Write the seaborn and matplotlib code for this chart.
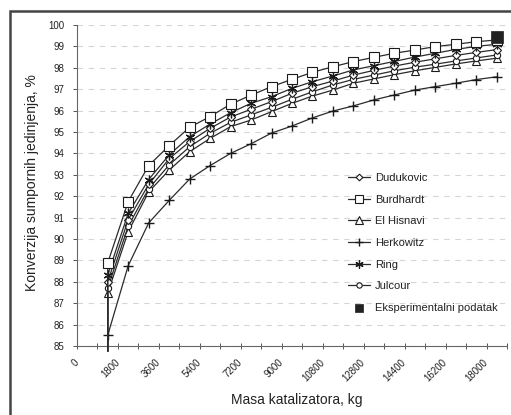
import numpy as np
import pandas as pd
import matplotlib
matplotlib.use("Agg")
import matplotlib.pyplot as plt
from matplotlib.patches import Rectangle
from matplotlib.ticker import MultipleLocator
import seaborn as sns

# ---------------- data ----------------
masa = [1350, 2250, 3150, 4050, 4950, 5850, 6750, 7650, 8550, 9450,
        10350, 11250, 12150, 13050, 13950, 14850, 15750, 16650, 17550, 18450]

burdhardt = [88.88, 91.75, 93.43, 94.36, 95.22, 95.72, 96.30, 96.72, 97.12, 97.46,
             97.79, 98.05, 98.29, 98.49, 98.68, 98.83, 98.99, 99.10, 99.22, 99.30]
ring = [88.32, 91.20, 92.78, 93.93, 94.78, 95.37, 95.90, 96.34, 96.65, 97.04,
        97.35, 97.62, 97.90, 98.10, 98.30, 98.50, 98.68, 98.86, 99.00, 99.10]
dudukovic = [88.00, 90.90, 92.55, 93.75, 94.55, 95.17, 95.70, 96.06, 96.42, 96.81,
             97.12, 97.38, 97.66, 97.88, 98.08, 98.26, 98.42, 98.58, 98.72, 98.85]
julcour = [87.70, 90.60, 92.35, 93.46, 94.31, 94.94, 95.45, 95.80, 96.15, 96.53,
           96.88, 97.20, 97.46, 97.66, 97.86, 98.03, 98.17, 98.32, 98.46, 98.60]
el_hisnavi = [87.47, 90.34, 92.20, 93.22, 94.08, 94.70, 95.25, 95.56, 95.95, 96.34,
              96.68, 96.96, 97.28, 97.48, 97.68, 97.86, 98.02, 98.18, 98.32, 98.45]
herkowitz = [85.50, 88.75, 90.75, 91.80, 92.80, 93.43, 94.00, 94.45, 94.95, 95.28,
             95.66, 95.98, 96.22, 96.50, 96.73, 96.96, 97.12, 97.28, 97.45, 97.58]

# lines start below the axis minimum at the first mass
pocetak_masa = 1350
pocetak_konverzija = 84.75

eksperiment_masa = [18450]
eksperiment_konverzija = [99.42]

legend_order = ["Dudukovic", "Burdhardt", "El Hisnavi", "Herkowitz", "Ring", "Julcour"]
series = {
    "Dudukovic": dudukovic,
    "Burdhardt": burdhardt,
    "El Hisnavi": el_hisnavi,
    "Herkowitz": herkowitz,
    "Ring": ring,
    "Julcour": julcour,
}

x_ticks = list(range(0, 18001, 1800))
x_tick_labels = ["0", "1800", "3600", "5400", "7200", "9000",
                 "10800", "12800", "14400", "16200", "18000"]
y_ticks = list(range(85, 101))

# ---------------- style ----------------
sns.set_theme(style="white")
plt.rcParams["font.family"] = ["Liberation Sans", "DejaVu Sans"]

W, H = 511, 415
fig = plt.figure(figsize=(W / 100, H / 100), dpi=100)
ax = fig.add_axes([77 / W, 1 - 346 / H, (507 - 77) / W, (346 - 25) / H])

styles = {
    "Dudukovic": dict(marker="D", markersize=4),
    "Burdhardt": dict(marker="s", markersize=7),
    "El Hisnavi": dict(marker="^", markersize=6),
    "Herkowitz": dict(marker="+", markersize=7, markeredgewidth=1.0),
    "Ring": dict(marker=(6, 2, 0), markersize=7, markeredgewidth=0.9),
    "Julcour": dict(marker="o", markersize=4.5),
}

line_col = "#2b2b2b"
zorders = {"Herkowitz": 3, "El Hisnavi": 4, "Julcour": 5, "Dudukovic": 6, "Ring": 7, "Burdhardt": 8}
for name in legend_order:
    vals = series[name]
    df = pd.DataFrame({"masa": [pocetak_masa] + masa,
                       "konverzija": [pocetak_konverzija] + vals})
    st = styles[name]
    sns.lineplot(data=df, x="masa", y="konverzija", ax=ax, sort=False, estimator=None,
                 color=line_col, linewidth=0.9, label=name,
                 marker=st["marker"], markersize=st["markersize"],
                 markeredgewidth=st.get("markeredgewidth", 0.8),
                 markerfacecolor="white", markeredgecolor="#1a1a1a",
                 markevery=list(range(1, len(df))), clip_on=False,
                 zorder=zorders[name])

sns.scatterplot(x=eksperiment_masa, y=eksperiment_konverzija, ax=ax, marker="s",
                s=75, color="#222222", edgecolor="#222222", linewidth=0.5,
                label="Eksperimentalni podatak", zorder=10, clip_on=False)

# ---------------- axes ----------------
ax.set_xlim(0, 18900)
ax.set_ylim(85, 100)
ax.set_xticks(x_ticks)
ax.set_xticklabels(x_tick_labels, rotation=45, ha="right", va="center",
                   rotation_mode="anchor", fontsize=7, color="#222222")
ax.xaxis.set_minor_locator(MultipleLocator(900))
ax.set_yticks(y_ticks)
ax.set_yticklabels([str(v) for v in y_ticks], fontsize=7, color="#222222")

ax.tick_params(axis="x", which="both", direction="inout", length=5, width=0.7,
               color="#555555", bottom=True, pad=8)
ax.tick_params(axis="y", which="major", direction="out", length=3, width=0.7,
               color="#555555", left=True, pad=6)

for sp in ["top", "right"]:
    ax.spines[sp].set_visible(False)
for sp in ["left", "bottom"]:
    ax.spines[sp].set_color("#666666")
    ax.spines[sp].set_linewidth(0.8)

ax.yaxis.grid(True, which="major", color="#d6d6d6", linestyle=(0, (5, 5)), linewidth=0.8)
ax.xaxis.grid(False)
ax.set_axisbelow(True)

ax.set_xlabel("Masa katalizatora, kg", fontsize=10, color="#222222")
ax.set_ylabel("Konverzija sumpornih jedinjenja, %", fontsize=10, color="#222222")
ax.xaxis.set_label_coords(0.51, -0.168)
ax.xaxis.label.set_va("center")
ax.yaxis.set_label_coords(-0.105, 0.51)
ax.yaxis.label.set_va("center")

leg = ax.legend(loc="upper left", bbox_to_anchor=(348 / W, 1 - 173 / H),
                bbox_transform=fig.transFigure, frameon=False, fontsize=8,
                labelspacing=1.05, handlelength=2.0, handletextpad=0.4,
                borderpad=0, borderaxespad=0, markerscale=0.85)
for t in leg.get_texts():
    t.set_color("#222222")
leg.legend_handles[-1].set_sizes([30])

# outer frame of the figure panel (cut at right and bottom)
fig.patches.append(Rectangle((10 / W, -0.1), 1.2, 1 - 11 / H + 0.1,
                             transform=fig.transFigure, fill=False,
                             edgecolor="#444444", linewidth=1.8))

fig.savefig("out.png", dpi=100)
